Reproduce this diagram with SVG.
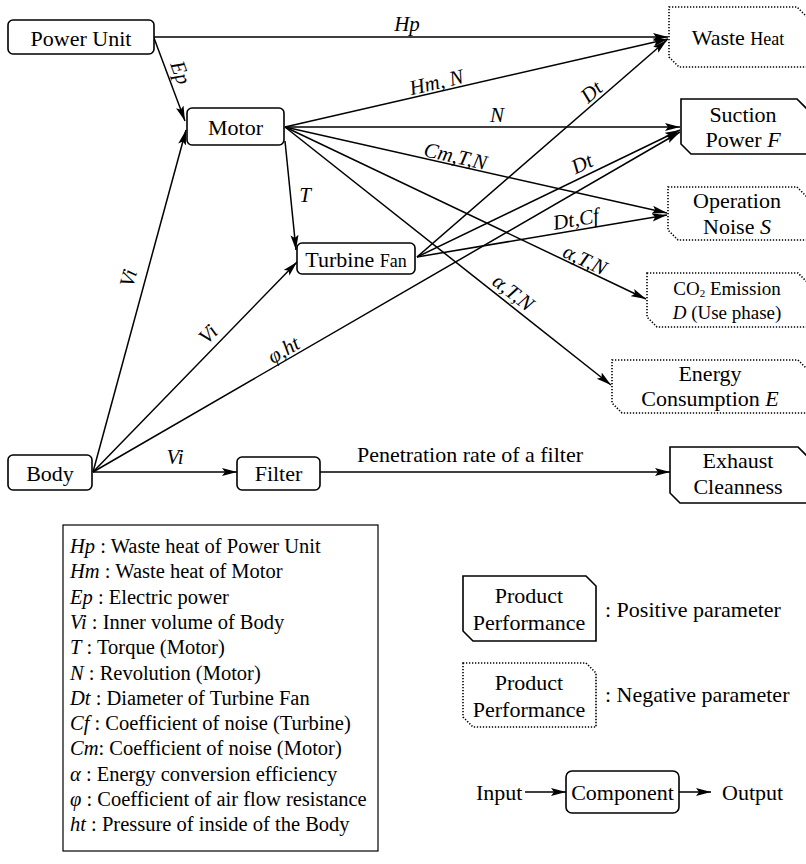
<svg xmlns="http://www.w3.org/2000/svg" width="806" height="864" viewBox="0 0 806 864">
<style>
text{font-family:"Liberation Serif","Times New Roman",serif;fill:#000}
.t{font-size:22px;text-anchor:middle}
.s{font-size:18px}
.l{font-size:21px;font-style:italic;text-anchor:middle}
.g{font-size:20.5px}
.i{font-style:italic}
.box{fill:#fff;stroke:#000;stroke-width:1.6}
.pos{fill:#fff;stroke:#000;stroke-width:1.6}
.neg{fill:#fff;stroke:#000;stroke-width:1.6;stroke-dasharray:1.3 1.7}
.c{fill:none;stroke:#000;stroke-width:1.5;marker-end:url(#ah)}
</style>
<defs>
<marker id="ah" markerUnits="userSpaceOnUse" markerWidth="16" markerHeight="10" refX="15" refY="5" orient="auto">
<path d="M0,1 L15,5 L0,9 L3,5 z" fill="#000"/>
</marker>
</defs>
<rect width="806" height="864" fill="#fff"/>
<g id="connectors">
<path class="c" d="M154,37 L668,37"/>
<path class="c" d="M154,38 L185,121"/>
<path class="c" d="M285,127 L668,39"/>
<path class="c" d="M285,127 L680,127"/>
<path class="c" d="M285,127 L667,213"/>
<path class="c" d="M285,127 L646,299"/>
<path class="c" d="M285,127 L611,385"/>
<path class="c" d="M285,141 L296,250"/>
<path class="c" d="M417,257 L667,40"/>
<path class="c" d="M417,257 L680,130"/>
<path class="c" d="M417,257 L667,215"/>
<path class="c" d="M93,472 L186,130"/>
<path class="c" d="M93,472 L297,262"/>
<path class="c" d="M93,472 L680,132"/>
<path class="c" d="M93,472 L237,472"/>
<path class="c" d="M320,472 L670,472"/>
<text class="l" x="407" y="31">Hp</text>
<text class="l" transform="translate(174,75) rotate(70)">Ep</text>
<text class="l" transform="translate(438,89) rotate(-13.1)">Hm, N</text>
<text class="l" x="497" y="122">N</text>
<text class="l" transform="translate(454,163) rotate(12.7)">Cm,T,N</text>
<text class="l" transform="translate(582,266) rotate(25.4)">α,T,N</text>
<text class="l" transform="translate(509,298) rotate(38.3)">α,T,N</text>
<text class="l" x="305" y="202">T</text>
<text class="l" transform="translate(596,97) rotate(-41.1)">Dt</text>
<text class="l" transform="translate(585,170) rotate(-25.8)">Dt</text>
<text class="l" transform="translate(577,226) rotate(-9.7)">Dt,Cf</text>
<text class="l" transform="translate(135,280) rotate(-74.8)">Vi</text>
<text class="l" transform="translate(213,339) rotate(-45.8)">Vi</text>
<text class="l" transform="translate(287,356) rotate(-30.1)">φ,ht</text>
<text class="l" x="175" y="464">Vi</text>
<text class="t" x="470" y="462">Penetration rate of a filter</text>
</g>
<g id="power-unit"><rect class="box" x="8" y="20" width="146" height="34" rx="5"/><text class="t" x="81" y="46">Power Unit</text></g>
<g id="motor"><rect class="box" x="187" y="108" width="97" height="37" rx="5"/><text class="t" x="235.5" y="135">Motor</text></g>
<g id="turbine-fan"><rect class="box" x="297" y="243" width="118" height="31" rx="5"/><text class="t" x="356" y="267">Turbine <tspan class="s">Fan</tspan></text></g>
<g id="body"><rect class="box" x="8" y="455" width="84" height="35" rx="5"/><text class="t" x="50" y="481">Body</text></g>
<g id="filter"><rect class="box" x="237" y="457" width="83" height="33" rx="5"/><text class="t" x="278.5" y="481">Filter</text></g>
<g id="waste-heat"><path class="neg" d="M669,7 H797 L807,17 V67 H679 L669,57 Z"/><text class="t" x="738" y="45">Waste <tspan class="s">Heat</tspan></text></g>
<g id="suction-power"><path class="pos" d="M681,99 H797 L807,109 V154 H691 L681,144 Z"/><text class="t" x="743" y="122">Suction</text><text class="t" x="743" y="147">Power <tspan class="i">F</tspan></text></g>
<g id="operation-noise"><path class="neg" d="M668,187 H797 L807,197 V240 H678 L668,230 Z"/><text class="t" x="737" y="208">Operation</text><text class="t" x="737" y="234">Noise <tspan class="i">S</tspan></text></g>
<g id="co2-emission"><path class="neg" d="M647,273 H798 L808,283 V327 H657 L647,317 Z"/><text class="t" x="727" y="295" style="font-size:19px">CO<tspan font-size="11" dy="2">2</tspan><tspan dy="-2"> Emission</tspan></text><text class="t" x="727" y="319" style="font-size:19px"><tspan class="i">D</tspan> (Use phase)</text></g>
<g id="energy-consumption"><path class="neg" d="M612,360 H798 L808,370 V413 H622 L612,403 Z"/><text class="t" x="710" y="381">Energy</text><text class="t" x="710" y="406">Consumption <tspan class="i">E</tspan></text></g>
<g id="exhaust-cleanness"><path class="pos" d="M670,447 H798 L808,457 V503 H680 L670,493 Z"/><text class="t" x="738" y="468">Exhaust</text><text class="t" x="738" y="494">Cleanness</text></g>
<g id="legend-symbols">
<rect x="63" y="525" width="315" height="326" fill="none" stroke="#000" stroke-width="1.2"/>
<text class="g" x="70" y="553"><tspan class="i">Hp</tspan> : Waste heat of Power Unit</text>
<text class="g" x="70" y="578"><tspan class="i">Hm</tspan> : Waste heat of Motor</text>
<text class="g" x="70" y="604"><tspan class="i">Ep</tspan> : Electric power</text>
<text class="g" x="70" y="629"><tspan class="i">Vi</tspan> : Inner volume of Body</text>
<text class="g" x="70" y="654"><tspan class="i">T</tspan> : Torque (Motor)</text>
<text class="g" x="70" y="680"><tspan class="i">N</tspan> : Revolution (Motor)</text>
<text class="g" x="70" y="705"><tspan class="i">Dt</tspan> : Diameter of Turbine Fan</text>
<text class="g" x="70" y="730"><tspan class="i">Cf</tspan> : Coefficient of noise (Turbine)</text>
<text class="g" x="70" y="755"><tspan class="i">Cm</tspan>: Coefficient of noise (Motor)</text>
<text class="g" x="70" y="781"><tspan class="i">α</tspan> : Energy conversion efficiency</text>
<text class="g" x="70" y="806"><tspan class="i">φ</tspan> : Coefficient of air flow resistance</text>
<text class="g" x="70" y="831"><tspan class="i">ht</tspan> : Pressure of inside of the Body</text>
</g>
<g id="legend-positive"><path class="pos" d="M463,576 H586 L596,586 V641 H473 L463,631 Z"/><text class="t" x="529" y="603">Product</text><text class="t" x="529" y="630">Performance</text><text class="t" x="605" y="617" style="text-anchor:start">: Positive parameter</text></g>
<g id="legend-negative"><path class="neg" d="M463,663 H586 L596,673 V727 H473 L463,717 Z"/><text class="t" x="529" y="690">Product</text><text class="t" x="529" y="717">Performance</text><text class="t" x="605" y="702" style="text-anchor:start">: Negative parameter</text></g>
<g id="legend-component"><rect class="box" x="566" y="771" width="113" height="42" rx="6"/><text class="t" x="622.5" y="800">Component</text><text class="t" x="476" y="800" style="text-anchor:start">Input</text><text class="t" x="722" y="800" style="text-anchor:start">Output</text>
<path class="c" d="M525,792 L566,792"/><path class="c" d="M679,792 L711,792"/></g>
</svg>
